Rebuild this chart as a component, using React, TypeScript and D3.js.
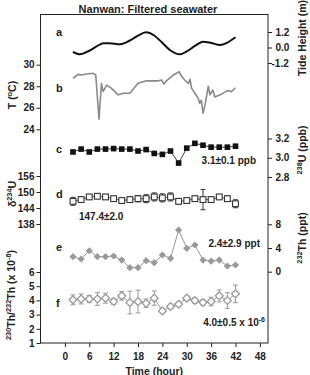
import React, { useRef, useEffect } from "react"
import * as d3 from "d3"

// sampling times (hours) of the discrete water samples
const hours = [2, 4, 6, 8, 10, 12, 14, 16, 18, 20, 22, 24, 26, 28, 30, 32, 34, 36, 38, 40, 42]

// a: tide height (m)
const tideHours = [2, 3.7, 6, 8, 9.5, 11, 13.5, 15, 16.5, 18, 20, 22, 24, 26, 28.3, 30, 32, 34, 36, 38.2, 40, 42]
const tideHeight = [-0.33, -0.53, -0.25, 0.12, 0.33, 0.33, 0.25, 0.38, 0.62, 0.92, 1.18, 0.93, 0.36, -0.23, -0.53, -0.3, 0.12, 0.45, 0.35, 0.19, 0.38, 0.79]

// b: water temperature (°C)
const tempHours = [2, 3.3, 4.1, 5.3, 7, 7.6, 8.4, 9, 9.4, 10.3, 11.5, 13.1, 14.4, 16, 18, 20.1, 23, 23.8, 24.4, 25,
  26.7, 28.1, 28.7, 29.5, 30.4, 30.8, 31.2, 32, 32.8, 33.2, 33.6, 34, 34.5, 35.3, 35.7, 36.4, 36.9, 38.2, 39.4, 40.2, 41, 42]
const tempValues = [28.74, 29.1, 29.04, 29.14, 29.2, 29.04, 24.93, 28.27, 27.5, 28.1, 27.8, 27.2, 27.35, 27.35, 28.27, 28.5, 28.5, 28.58, 28.2, 28.5,
  29.04, 29.35, 28.95, 28.58, 28.27, 28.64, 27.8, 27.35, 26.9, 26.4, 26.7, 25.5, 26.25, 28.0, 27.2, 27.65, 27.0, 27.2, 27.45, 27.6, 27.5, 27.86]

// c: 238U (ppb)
const u238 = [3.06, 3.09, 3.06, 3.09, 3.09, 3.095, 3.09, 3.09, 3.07, 3.085, 3.045, 3.035, 3.07, 2.945, 3.1, 3.15, 3.13, 3.11, 3.11, 3.11, 3.12]

// d: δ234U with 2σ errors
const d234U = [146.5, 147.15, 148.15, 148.4, 148.15, 147.5, 146.8, 147.15, 147.5, 147.5, 148.15, 147.8, 148.15, 146.5, 146.8, 147.5, 147.15, 147.15, 148.15, 147.5, 145.6]
const d234UErr = [1.5, 1.0, 0.8, 0.8, 0.8, 0.8, 0.8, 1.0, 1.2, 1.5, 1.5, 1.5, 1.5, 1.0, 1.0, 1.0, 3.8, 1.0, 0.8, 1.0, 1.5]

// e: 232Th (ppt)
const th232 = [2.53, 2.14, 3.54, 2.53, 2.53, 2.65, 1.97, 0.68, 0.68, 1.86, 1.52, 2.82, 2.26, 7.04, 3.95, 4.51, 1.97, 1.8, 1.97, 0.96, 1.13]

// f: 230Th/232Th atomic ratio (x 10^-6)
const thRatio = [4.04, 4.1, 4.1, 4.1, 4.16, 3.92, 4.32, 3.85, 3.92, 3.8, 4.16, 3.26, 3.57, 3.73, 4.16, 3.99, 3.85, 3.92, 4.32, 3.99, 4.46]
const thRatioErr = [0.35, 0.35, 0.25, 0.45, 0.35, 0.2, 0.3, 0.8, 0.8, 0.3, 0.5, 0.15, 0.15, 0.15, 0.15, 0.2, 0.2, 0.3, 0.42, 0.55, 0.62]

const xTicks = [0, 6, 12, 18, 24, 30, 36, 42, 48]
const tempTicks = [24, 26, 28, 30]
const d234Ticks = [138, 144, 150, 156]
const ratioTicks = [1, 2, 3, 4, 5, 6]
const tideTicks = [-1.2, 0, 1.2]
const uTicks = [2.8, 3.0, 3.2]
const thTicks = [0, 4, 8]

const W = 310, H = 375
const left = 40.5, right = 268, top = 14.5, bottom = 343
const FONT = "'Liberation Sans', Arial, Helvetica, sans-serif"
const INK = "#222"

type Part = { t: string; sup?: boolean }

const App = () => {
  const ref = useRef<SVGSVGElement>(null)

  useEffect(() => {
    const svg = d3.select(ref.current)
    svg.selectAll("*").remove()

    const x = d3.scaleLinear().domain([-6, 50]).range([left, right])
    const yTide = d3.scaleLinear().domain([-1.2, 1.2]).range([63, 32])
    const yT = d3.scaleLinear().domain([24, 30]).range([129.3, 64.7])
    const yU = d3.scaleLinear().domain([2.8, 3.2]).range([177, 138.5])
    const yD = d3.scaleLinear().domain([138, 156]).range([224, 176])
    const yTh = d3.scaleLinear().domain([0, 8]).range([271.7, 224.3])
    const yR = d3.scaleLinear().domain([1, 6]).range([343, 272])

    const rich = (sel: any, parts: Part[], size: number) => {
      let shift = 0
      parts.forEach(p => {
        const target = p.sup ? -size * 0.42 : 0
        sel.append("tspan")
          .attr("dy", target - shift)
          .attr("font-size", p.sup ? size * 0.7 : size)
          .text(p.t)
        shift = target
      })
    }

    const label = (px: number, py: number, parts: Part[], size: number, anchor = "start", rotate = false) => {
      const t = svg.append("text")
        .attr("transform", rotate ? `translate(${px},${py}) rotate(-90)` : `translate(${px},${py})`)
        .attr("text-anchor", anchor)
        .attr("font-family", FONT)
        .attr("font-weight", "bold")
        .attr("fill", INK)
      rich(t, parts, size)
    }

    const styleAxis = (g: any) => {
      g.select(".domain").remove()
      g.attr("font-family", FONT).attr("font-size", 10).attr("font-weight", "bold")
      g.selectAll(".tick line").attr("stroke", INK)
      g.selectAll(".tick text").attr("fill", INK)
    }

    // frame
    svg.append("rect")
      .attr("x", left).attr("y", top)
      .attr("width", right - left).attr("height", bottom - top)
      .attr("fill", "none").attr("stroke", INK).attr("stroke-width", 1)

    // bottom axis
    svg.append("g")
      .attr("transform", `translate(0,${bottom})`)
      .call(d3.axisBottom(x).tickValues(xTicks).tickSize(4).tickPadding(6))
      .call(styleAxis)

    // left axes
    const leftAxis = (scale: any, ticks: number[]) =>
      svg.append("g")
        .attr("transform", `translate(${left},0)`)
        .call(d3.axisLeft(scale).tickValues(ticks).tickSize(4).tickPadding(2).tickFormat((d: any) => String(d)))
        .call(styleAxis)
    leftAxis(yT, tempTicks)
    leftAxis(yD, d234Ticks)
    leftAxis(yR, ratioTicks)

    // right axes
    const rightAxis = (scale: any, ticks: number[], fmt: (d: number) => string) =>
      svg.append("g")
        .attr("transform", `translate(${right},0)`)
        .call(d3.axisRight(scale).tickValues(ticks).tickSize(4).tickPadding(3.5).tickFormat((d: any) => fmt(d)))
        .call(styleAxis)
        .call((g: any) => g.selectAll(".tick text").attr("dx", (d: number) => d < 0 ? -4 : 0))
    rightAxis(yTide, tideTicks, d => d.toFixed(1))
    rightAxis(yU, uTicks, d => d.toFixed(1))
    rightAxis(yTh, thTicks, d => String(d))

    // a: tide
    svg.append("path")
      .datum(tideHours.map((h, i) => [h, tideHeight[i]] as [number, number]))
      .attr("fill", "none").attr("stroke", "#111").attr("stroke-width", 2)
      .attr("d", d3.line<[number, number]>().x(d => x(d[0])).y(d => yTide(d[1])).curve(d3.curveMonotoneX))

    // b: temperature
    svg.append("path")
      .datum(tempHours.map((h, i) => [h, tempValues[i]] as [number, number]))
      .attr("fill", "none").attr("stroke", "#8a8a8a").attr("stroke-width", 1.6)
      .attr("stroke-linejoin", "round")
      .attr("d", d3.line<[number, number]>().x(d => x(d[0])).y(d => yT(d[1])))

    const series = (vals: number[], y: any) => hours.map((h, i) => [x(h), y(vals[i])] as [number, number])
    const polyline = (pts: [number, number][], color: string, w: number) =>
      svg.append("path").datum(pts)
        .attr("fill", "none").attr("stroke", color).attr("stroke-width", w)
        .attr("d", d3.line())
    const errorBars = (vals: number[], errs: number[], y: any, color: string) => {
      const g = svg.append("g").attr("stroke", color).attr("stroke-width", 1)
      hours.forEach((h, i) => {
        const cx = x(h), y0 = y(vals[i] - errs[i]), y1 = y(vals[i] + errs[i])
        g.append("line").attr("x1", cx).attr("x2", cx).attr("y1", y0).attr("y2", y1)
        g.append("line").attr("x1", cx - 2.5).attr("x2", cx + 2.5).attr("y1", y0).attr("y2", y0)
        g.append("line").attr("x1", cx - 2.5).attr("x2", cx + 2.5).attr("y1", y1).attr("y2", y1)
      })
    }
    const diamond = (r: number) => `M0,${-r}L${r},0L0,${r}L${-r},0Z`

    // c: 238U
    const cPts = series(u238, yU)
    polyline(cPts, "#111", 0.8)
    svg.append("g").selectAll("rect").data(cPts).enter().append("rect")
      .attr("x", d => d[0] - 2.8).attr("y", d => d[1] - 2.8)
      .attr("width", 5.6).attr("height", 5.6).attr("fill", "#111")

    // d: δ234U
    const dPts = series(d234U, yD)
    polyline(dPts, "#333", 0.8)
    errorBars(d234U, d234UErr, yD, "#333")
    svg.append("g").selectAll("rect").data(dPts).enter().append("rect")
      .attr("x", d => d[0] - 2.9).attr("y", d => d[1] - 2.9)
      .attr("width", 5.8).attr("height", 5.8)
      .attr("fill", "#fff").attr("stroke", "#333").attr("stroke-width", 1.1)

    // e: 232Th
    const ePts = series(th232, yTh)
    polyline(ePts, "#999", 1)
    svg.append("g").selectAll("path").data(ePts).enter().append("path")
      .attr("transform", d => `translate(${d[0]},${d[1]})`)
      .attr("d", diamond(3.6)).attr("fill", "#999")

    // f: 230Th/232Th
    const fPts = series(thRatio, yR)
    polyline(fPts, "#999", 1)
    errorBars(thRatio, thRatioErr, yR, "#999")
    svg.append("g").selectAll("path").data(fPts).enter().append("path")
      .attr("transform", d => `translate(${d[0]},${d[1]})`)
      .attr("d", diamond(3.9)).attr("fill", "#fff")
      .attr("stroke", "#999").attr("stroke-width", 1.3)

    // panel letters
    const letters: [string, number][] = [["a", 36], ["b", 92], ["c", 153], ["d", 198], ["e", 250.5], ["f", 307]]
    letters.forEach(([t, by]) => label(56, by, [{ t }], 11))

    // annotations
    label(256, 164, [{ t: "3.1±0.1 ppb" }], 10, "end")
    label(79, 220, [{ t: "147.4±2.0" }], 10)
    label(260, 247, [{ t: "2.4±2.9 ppt" }], 10, "end")
    label(265, 326, [{ t: "4.0±0.5 x 10" }, { t: "-6", sup: true }], 10, "end")

    // title and axis titles
    label(148, 13, [{ t: "Nanwan: Filtered seawater" }], 11, "middle")
    label((left + right) / 2, 374.5, [{ t: "Time (hour)" }], 10.5, "middle")
    label(16, 95, [{ t: "T (" }, { t: "o", sup: true }, { t: "C)" }], 10.5, "middle", true)
    label(16, 194, [{ t: "δ" }, { t: "234", sup: true }, { t: "U" }], 10.5, "middle", true)
    label(15, 295, [{ t: "230", sup: true }, { t: "Th/" }, { t: "232", sup: true }, { t: "Th (x 10" }, { t: "-6", sup: true }, { t: ")" }], 10.5, "middle", true)
    label(306, 38, [{ t: "Tide Height (m)" }], 10.5, "middle", true)
    label(306, 150, [{ t: "238", sup: true }, { t: "U (ppb)" }], 10.5, "middle", true)
    label(306, 238, [{ t: "232", sup: true }, { t: "Th (ppt)" }], 10.5, "middle", true)
  }, [])

  return (
    <svg ref={ref} width={W} height={H}
      style={{ position: "absolute", left: 0, top: 0, background: "#fff" }} />
  )
}

export default App
